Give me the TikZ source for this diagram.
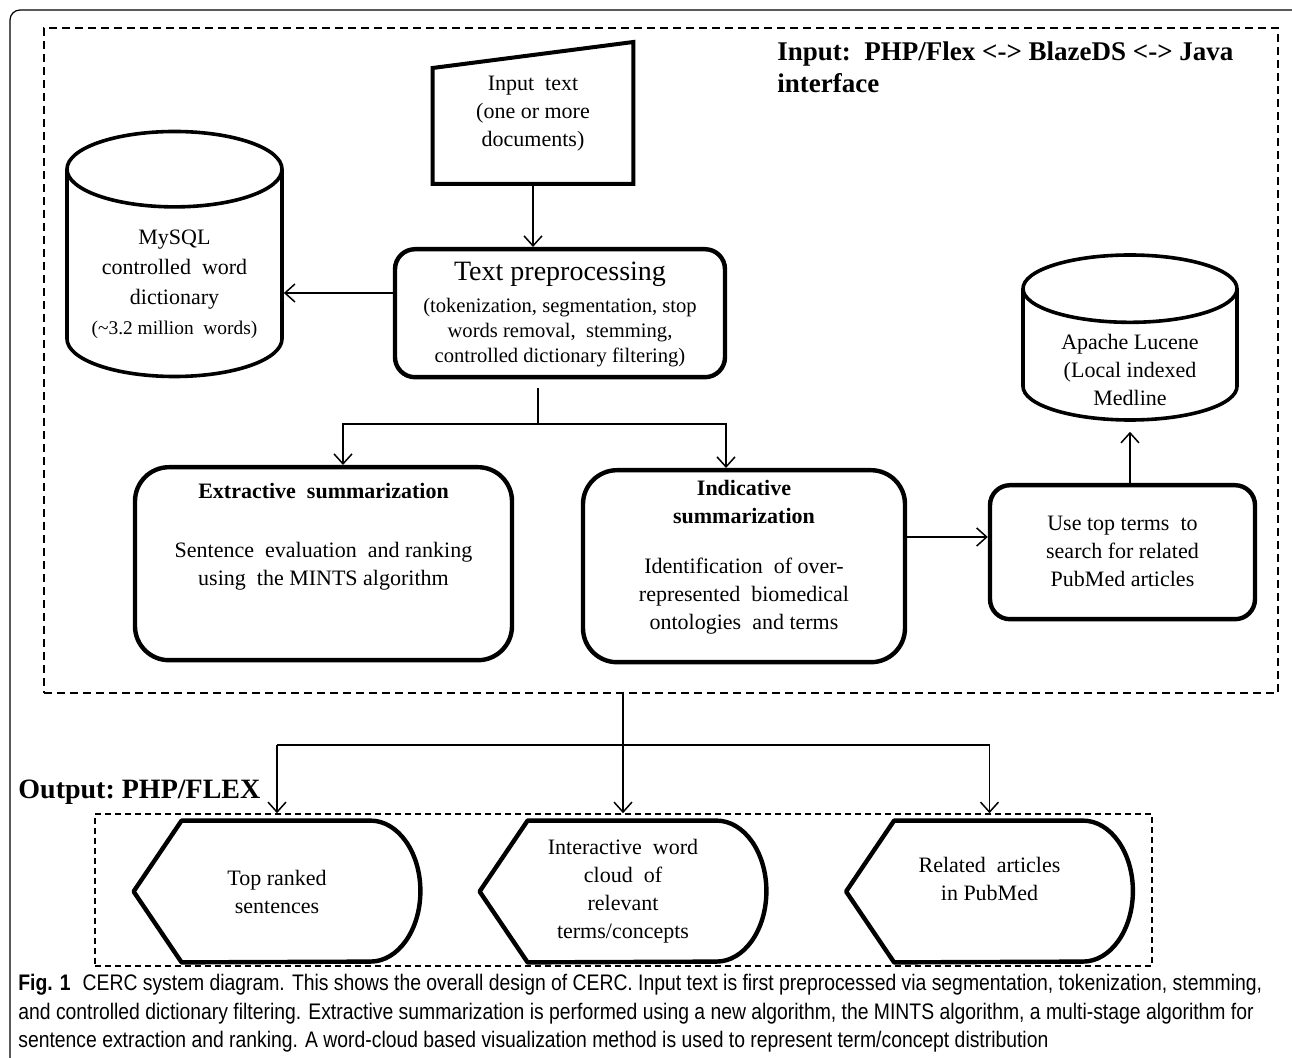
\documentclass[tikz,border=0pt]{standalone}
\usepackage{fontspec}
\setmainfont{Liberation Serif}
\newfontfamily\capfont[FakeStretch=0.86]{Liberation Sans}
\usetikzlibrary{arrows.meta,shapes.geometric,positioning,calc}
\tikzstyle{link} = [line width=0.75pt,-{Straight Barb[length=5pt,width=9pt]}]
\tikzstyle{plain} = [line width=0.75pt]
\tikzstyle{box} = [draw, line width=2.2pt, rounded corners=10pt, align=center, inner sep=0pt]
\tikzstyle{db} = [draw, cylinder, shape border rotate=90, line width=1.8pt, align=center, inner sep=0pt, anchor=shape center]
\tikzstyle{outbox} = [minimum width=143pt, minimum height=70.5pt, inner sep=0pt, align=center]
\tikzstyle{frame} = [draw, dashed, line width=1pt, dash pattern=on 4pt off 2.5pt, inner sep=0pt]
\tikzstyle{heading} = [font=\fontsize{13.5}{16}\selectfont\bfseries, align=left, inner sep=0pt]
\newcommand{\padtop}[1]{\rule{0pt}{#1}}
\newcommand{\padbot}[1]{\rule[-#1]{0pt}{#1}}
\begin{document}
\begin{tikzpicture}[x=0.5pt, y=-0.5pt, every node/.style={font=\fontsize{11}{14}\selectfont}]
\useasboundingbox (0,0) rectangle (1292,1058);
% page frame
\draw[line width=0.6pt, rounded corners=5pt] (10,1058) -- (10,10) -- (1292,10);

% frames
\node[frame, minimum width=617pt, minimum height=332.5pt] (inframe) at (661,360.5) {};
\node[frame, line width=0.8pt, dash pattern=on 3pt off 2pt, minimum width=528.5pt, minimum height=76pt] (outframe) at (623.5,890) {};

\node[heading, anchor=north west] (intitle) at (777,41) {Input:\ \ PHP/Flex <-> BlazeDS <-> Java\\interface};
\node[heading, font=\fontsize{14}{16}\selectfont\bfseries, anchor=base west] (outtitle) at (18,799) {Output:\ PHP/FLEX};

% input text
\node[align=center, inner sep=0pt, minimum width=100pt, anchor=north] (input) at (533,42)
  {\padtop{24pt}Input\ \ text\\(one or more\\documents)\padbot{18.5pt}};
\draw[line width=2pt] (input.south west) -- (input.south east) -- (input.north east)
  -- ([yshift=-13pt]input.north west) -- cycle;

% preprocessing
\node[box, minimum width=165pt, anchor=north, font=\fontsize{10.3}{12.5}\selectfont] (prep) at (560,247)
  {\padtop{15.5pt}{\fontsize{14}{16}\selectfont Text preprocessing}\\[3.5pt]
   (tokenization, segmentation, stop\\words removal,\ \ stemming,\\controlled dictionary filtering)\padbot{7.5pt}};

% databases
\node[db, minimum width=107.5pt, minimum height=121pt, aspect=0.455, font=\fontsize{11}{15}\selectfont] (mysql) at (174.5,254)
  {\padtop{18pt}MySQL\\controlled\ \ word\\dictionary\\{\fontsize{9.7}{12}\selectfont(\textasciitilde3.2 million\ \ words)}};
\node[db, minimum width=107pt, minimum height=82.5pt, aspect=0.49] (lucene) at (1130,337.5)
  {\raisebox{-11pt}[0pt][0pt]{\begin{tabular}{@{}c@{}}Apache Lucene\\(Local indexed\\Medline\end{tabular}}};

% summarization
\node[box, rounded corners=17pt, minimum width=188.5pt, anchor=north] (extr) at (323.5,465)
  {\padtop{15.5pt}\textbf{Extractive\ \ summarization}\\[15.5pt]
   Sentence\ \ evaluation\ \ and ranking\\using\ \ the MINTS algorithm\padbot{37.5pt}};
\node[box, rounded corners=17pt, minimum width=161pt, anchor=north] (ind) at (744,468)
  {\padtop{12.5pt}\textbf{Indicative}\\\textbf{summarization}\\[11pt]
   Identification\ \ of over-\\represented\ \ biomedical\\ontologies\ \ and terms\padbot{16.5pt}};
\node[box, minimum width=132.5pt, anchor=north] (use) at (1122.5,483)
  {\padtop{22.5pt}Use top terms\ \ to\\search for related\\PubMed articles\padbot{16.5pt}};

% outputs
\node[outbox] (top) at (277,891.5) {Top ranked\\sentences};
\node[outbox] (cloud) at (623,891.5) {Interactive\ \ word\\cloud\ \ of\\relevant\\terms/concepts};
\node[outbox] (related) at (989.5,891.5) {Related\ \ articles\\in PubMed\padbot{13pt}};
\foreach \n in {top,cloud,related}
  \draw[line width=2.2pt, line join=round] (\n.west) -- ([xshift=24pt]\n.north west)
    -- ([xshift=-25pt]\n.north east) arc[start angle=90, end angle=-90, x radius=25pt, y radius=35.25pt]
    -- ([xshift=24pt]\n.south west) -- cycle;

% connectors
\draw[link] (input.south) -- (input.south |- prep.north);
\draw[link] (prep.west |- 0,293) -- (mysql.east |- 0,293);
\coordinate (split) at (538,424);
\draw[plain, shorten <=4.5pt] (split |- prep.south) -- (split);
\draw[link] (split) -| ([xshift=9.75pt]extr.north);
\draw[link] (split) -| ([xshift=-9pt]ind.north);
\draw[link] (ind.east |- 0,537) -- (use.west |- 0,537);
\draw[link, shorten >=5pt] (use.north -| lucene.south) -- (lucene.south);

\coordinate (fork) at (623,745);
\draw[plain] (inframe.south -| fork) -- (fork);
\draw[plain] (fork -| top) -- (fork -| related);
\foreach \n in {top,cloud,related}
  \draw[link] (fork -| \n) -- (outframe.north -| \n);

% caption
\node[anchor=north west, align=left, inner sep=0pt, font=\capfont\fontsize{11.25}{14.25}\selectfont] (caption) at (18,974)
  {{\bfseries Fig. 1}\hspace{6pt}CERC system diagram. This shows the overall design of CERC. Input text is first preprocessed via segmentation, tokenization, stemming,\\
   and controlled dictionary filtering. Extractive summarization is performed using a new algorithm, the MINTS algorithm, a multi-stage algorithm for\\
   sentence extraction and ranking. A word-cloud based visualization method is used to represent term/concept distribution};
\end{tikzpicture}
\end{document}
